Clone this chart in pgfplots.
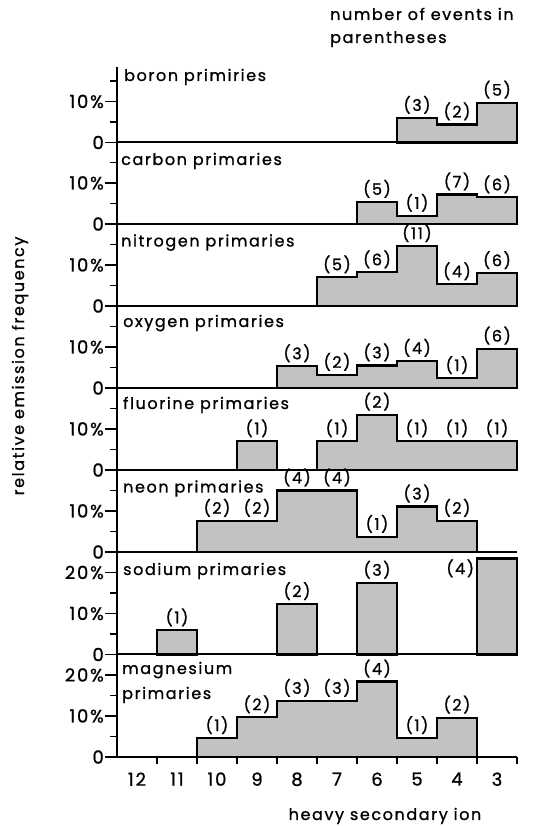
\documentclass[border=0pt]{standalone}
\usepackage{fontspec}
\setmainfont{Poppins}[LetterSpace=10, FakeBold=1]
\usepackage{pgfplots}
\pgfplotsset{compat=1.18}
\newcommand{\fs}{\fontsize{16}{18}\selectfont}
\newcommand{\ft}{\fontsize{18}{20}\selectfont}
\pgfplotsset{
  panel/.style={
    x=40pt, y=4.1pt, xmin=0, xmax=10, ymin=0, ymax=20,
    axis x line=bottom, axis y line=left,
    every outer x axis line/.append style={-},
    every outer y axis line/.append style={-},
    axis line style={-, line width=2pt},
    tick align=outside,
    major tick length=12pt, minor tick length=7pt,
    tick style={black, line width=1.6pt},
    xtick=\empty,
    ytick={0,10}, yticklabels={0,10\%},
    minor ytick={5,15},
    yticklabel style={font=\ft, inner sep=1pt},
    clip=false,
    anchor=south west,
    /pgf/number format/assume math mode=true,
  },
  tall/.style={ymax=25, ytick={0,10,20}, yticklabels={0,10\%,20\%}},
  bars/.style={const plot, fill=black!24, draw=black, line width=2.2pt, line join=miter, mark=none},
  cnt/.style={draw=none, mark=none, nodes near coords={(\pgfplotspointmeta)}, point meta=explicit symbolic,
    every node near coord/.style={anchor=center, yshift=13pt, font=\fs, text=black, inner sep=0pt}},
}
\begin{document}
\begin{tikzpicture}
\useasboundingbox (0,0) rectangle (532pt,826pt);
% boron
\begin{axis}[panel, ymax=18.3, at={(117pt,683.5pt)}]
\addplot[bars] coordinates {(7,6.0) (8,4.4) (9,9.7) (10,9.7)} \closedcycle;
\addplot[cnt] coordinates {(7.5,6.0)[3] (8.5,4.4)[2] (9.5,9.7)[5]};
\end{axis}
% carbon
\begin{axis}[panel, at={(117pt,602pt)}]
\addplot[bars] coordinates {(6,5.4) (7,2.0) (8,7.2) (9,6.5) (10,6.5)} \closedcycle;
\addplot[cnt] coordinates {(6.5,5.4)[5] (7.5,2.0)[1] (8.5,7.2)[7] (9.5,6.5)[6]};
\end{axis}
% nitrogen
\begin{axis}[panel, at={(117pt,520pt)}]
\addplot[bars] coordinates {(5,7.0) (6,8.2) (7,14.6) (8,5.3) (9,8.0) (10,8.0)} \closedcycle;
\addplot[cnt] coordinates {(5.5,7.0)[5] (6.5,8.2)[6] (7.5,14.6)[11] (8.5,5.3)[4] (9.5,8.0)[6]};
\end{axis}
% oxygen
\begin{axis}[panel, at={(117pt,438pt)}]
\addplot[bars] coordinates {(4,5.3) (5,3.2) (6,5.5) (7,6.6) (8,2.4) (9,9.6) (10,9.6)} \closedcycle;
\addplot[cnt] coordinates {(4.5,5.3)[3] (5.5,3.2)[2] (6.5,5.5)[3] (7.5,6.6)[4] (8.5,2.4)[1] (9.5,9.6)[6]};
\end{axis}
% fluorine
\begin{axis}[panel, at={(117pt,356pt)}]
\addplot[bars] coordinates {(3,7.0) (4,7.0)} \closedcycle;
\addplot[bars] coordinates {(5,7.0) (6,13.5) (7,7.0) (8,7.0) (9,7.0) (10,7.0)} \closedcycle;
\addplot[cnt] coordinates {(3.5,7.0)[1] (5.5,7.0)[1] (6.5,13.5)[2] (7.5,7.0)[1] (8.5,7.0)[1] (9.5,7.0)[1]};
\end{axis}
% neon
\begin{axis}[panel, at={(117pt,274pt)}]
\addplot[bars] coordinates {(2,7.6) (3,7.6) (4,15.0) (5,15.0) (6,3.7) (7,11.1) (8,7.6) (9,7.6)} \closedcycle;
\addplot[cnt] coordinates {(2.5,7.6)[2] (3.5,7.6)[2] (4.5,15.0)[4] (5.5,15.0)[4] (6.5,3.7)[1] (7.5,11.1)[3] (8.5,7.6)[2]};
\end{axis}
% sodium
\begin{axis}[panel, tall, at={(117pt,171.5pt)}]
\addplot[bars] coordinates {(1,5.9) (2,5.9)} \closedcycle;
\addplot[bars] coordinates {(4,12.3) (5,12.3)} \closedcycle;
\addplot[bars] coordinates {(6,17.5) (7,17.5)} \closedcycle;
\addplot[bars] coordinates {(9,23.4) (10,23.4)} \closedcycle;
\addplot[cnt] coordinates {(1.5,5.9)[1] (4.5,12.3)[2] (6.5,17.5)[3]};
\addplot[cnt, every node near coord/.append style={yshift=-13pt}] coordinates {(8.58,21.0)[4]};
\end{axis}
% magnesium
\begin{axis}[panel, tall, at={(117pt,69pt)},
  xtick={0.5,1.5,...,9.5}, xticklabels={12,11,10,9,8,7,6,5,4,3},
  major x tick style={draw=none},
  minor xtick={1,2,...,10},
  xticklabel style={font=\ft}]
\addplot[bars] coordinates {(2,4.6) (3,9.7) (4,13.7) (5,13.7) (6,18.4) (7,4.6) (8,9.6) (9,9.6)} \closedcycle;
\addplot[cnt] coordinates {(2.5,4.6)[1] (3.5,9.7)[2] (4.5,13.7)[3] (5.5,13.7)[3] (6.5,18.4)[4] (7.5,4.6)[1] (8.5,9.6)[2]};
\end{axis}
% titles
\begin{scope}[every node/.style={anchor=base west, font=\fs, inner sep=0pt}]
\node at (124pt,745pt) {boron primiries};
\node at (121pt,661pt) {carbon primaries};
\node at (121pt,579.5pt) {nitrogen primaries};
\node at (123pt,499pt) {oxygen primaries};
\node at (123pt,417pt) {fluorine primaries};
\node at (123pt,333.5pt) {neon primaries};
\node at (123pt,251pt) {sodium primaries};
\node at (122pt,152pt) {magnesium};
\node at (122pt,127pt) {primaries};
\node at (330pt,806pt) {number of events in};
\node at (330pt,783pt) {parentheses};
\end{scope}
\node[rotate=90, font=\fs, inner sep=0pt] at (20pt,460pt) {relative emission frequency};
\node[anchor=base, font=\fs, inner sep=0pt] at (385pt,6pt) {heavy secondary ion};
\end{tikzpicture}
\end{document}
